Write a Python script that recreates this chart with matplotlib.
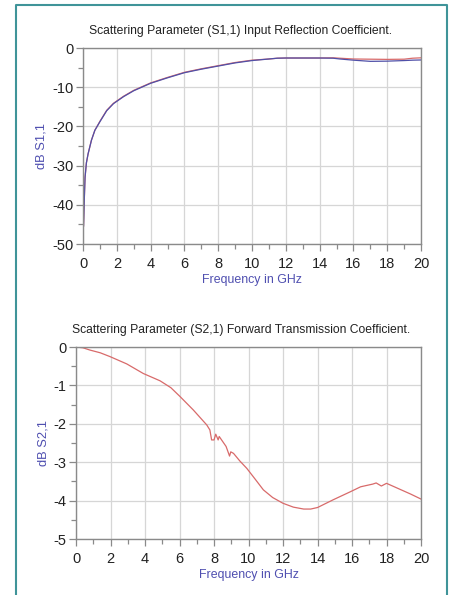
import numpy as np
import matplotlib.pyplot as plt
from matplotlib.ticker import MultipleLocator
from matplotlib.lines import Line2D

plt.rcParams['font.family'] = ['Liberation Sans', 'DejaVu Sans']
plt.rcParams['axes.unicode_minus'] = False

# S1,1 input reflection (two traces, nearly overlapping)
f11 = [0.0, 0.03, 0.08, 0.12, 0.2, 0.3, 0.5, 0.7, 1.0, 1.4, 1.8, 2.4, 3.0, 4.0,
       5.0, 6.0, 7.0, 8.0, 9.0, 10.0, 11.0, 11.5, 12.0, 13.0, 14.0, 14.8, 15.2,
       16.0, 17.0, 18.0, 19.0, 19.5, 20.0]
s11_blue = [-45.5, -45.5, -38.0, -33.0, -29.3, -27.0, -23.5, -21.0, -18.8, -16.0,
            -14.2, -12.4, -10.9, -9.0, -7.6, -6.3, -5.4, -4.6, -3.8, -3.2, -2.8,
            -2.6, -2.55, -2.55, -2.55, -2.6, -2.8, -3.1, -3.4, -3.35, -3.2, -3.1, -3.05]
s11_red = [-45.5, -45.5, -38.0, -33.0, -29.3, -27.0, -23.5, -21.0, -18.7, -15.9,
           -14.1, -12.3, -10.8, -8.9, -7.5, -6.2, -5.3, -4.5, -3.7, -3.1, -2.8,
           -2.6, -2.55, -2.55, -2.55, -2.5, -2.6, -2.8, -2.85, -2.9, -2.85, -2.6, -2.5]

# S2,1 forward transmission
f21 = [0.0, 0.4, 0.81, 1.4, 1.97, 2.94, 3.9, 4.87, 5.5, 6.03, 6.8, 7.58, 7.76,
       7.86, 8.0, 8.1, 8.24, 8.3, 8.5, 8.7, 8.9, 8.97, 9.13, 9.5, 9.9, 10.4,
       10.86, 11.4, 12.0, 12.6, 13.2, 13.6, 14.0, 14.9, 15.9, 16.5, 17.2, 17.4,
       17.55, 17.7, 18.0, 18.8, 19.4, 20.0]
s21 = [0.0, -0.02, -0.08, -0.15, -0.25, -0.44, -0.69, -0.88, -1.06, -1.29, -1.64,
       -2.03, -2.16, -2.42, -2.42, -2.27, -2.42, -2.33, -2.46, -2.59, -2.84, -2.73,
       -2.77, -2.97, -3.16, -3.45, -3.72, -3.92, -4.07, -4.17, -4.22, -4.22, -4.18,
       -3.98, -3.77, -3.64, -3.57, -3.54, -3.58, -3.62, -3.55, -3.71, -3.83, -3.96]

blue = '#5050a8'
red = '#d86a6a'
lab_col = '#4f4fb0'
grid_col = '#d6d6d6'
spine_col = '#8a8a8a'

fig = plt.figure(figsize=(4.49, 5.95), dpi=100)


def style_axes(ax, ymin, ymax, ymaj, ymin_step, ylabel, title, title_x):
    ax.set_xlim(0, 20)
    ax.set_ylim(ymin, ymax)
    ax.xaxis.set_major_locator(MultipleLocator(2))
    ax.xaxis.set_minor_locator(MultipleLocator(1))
    ax.yaxis.set_major_locator(MultipleLocator(ymaj))
    ax.yaxis.set_minor_locator(MultipleLocator(ymin_step))
    ax.grid(True, which='major', color=grid_col, linewidth=0.9)
    ax.set_axisbelow(True)
    for s in ax.spines.values():
        s.set_color(spine_col)
        s.set_linewidth(1.0)
    ax.tick_params(which='major', direction='out', length=5, width=0.9,
                   color=spine_col, labelsize=10.5, labelcolor='#222222')
    ax.tick_params(axis='x', which='major', pad=4)
    ax.tick_params(axis='y', which='major', pad=2)
    ax.tick_params(which='minor', direction='out', length=3.5, width=0.9,
                   color=spine_col)
    ax.set_xlabel('Frequency in GHz', color=lab_col, fontsize=8.9, labelpad=2.5)
    ax.set_ylabel(ylabel, color=lab_col, fontsize=9.3, labelpad=3)
    ax.set_title(title, fontsize=8.7, color='#222222', pad=10, x=title_x)


ax1 = fig.add_axes([0.1849, 0.5899, 0.7528, 0.3294])
ax1.plot(f11, s11_red, color=red, linewidth=0.9)
ax1.plot(f11, s11_blue, color=blue, linewidth=0.9)
style_axes(ax1, -50, 0, 10, 5, 'dB S1,1',
           'Scattering Parameter (S1,1) Input Reflection Coefficient.', 0.465)

ax2 = fig.add_axes([0.1693, 0.0941, 0.7684, 0.3227])
ax2.plot(f21, s21, color=red, linewidth=0.9)
style_axes(ax2, -5, 0, 1, 0.5, 'dB S2,1',
           'Scattering Parameter (S2,1) Forward Transmission Coefficient.', 0.478)

# teal frame around the figure (bottom edge runs off the image)
teal = '#3f9499'
fx = [16 / 449, 16 / 449, 447 / 449, 447 / 449]
fy = [0.0, 1 - 5 / 595, 1 - 5 / 595, 0.0]
fig.add_artist(Line2D(fx, fy, color=teal, linewidth=1.5, transform=fig.transFigure))

plt.savefig('out.png', dpi=100)
